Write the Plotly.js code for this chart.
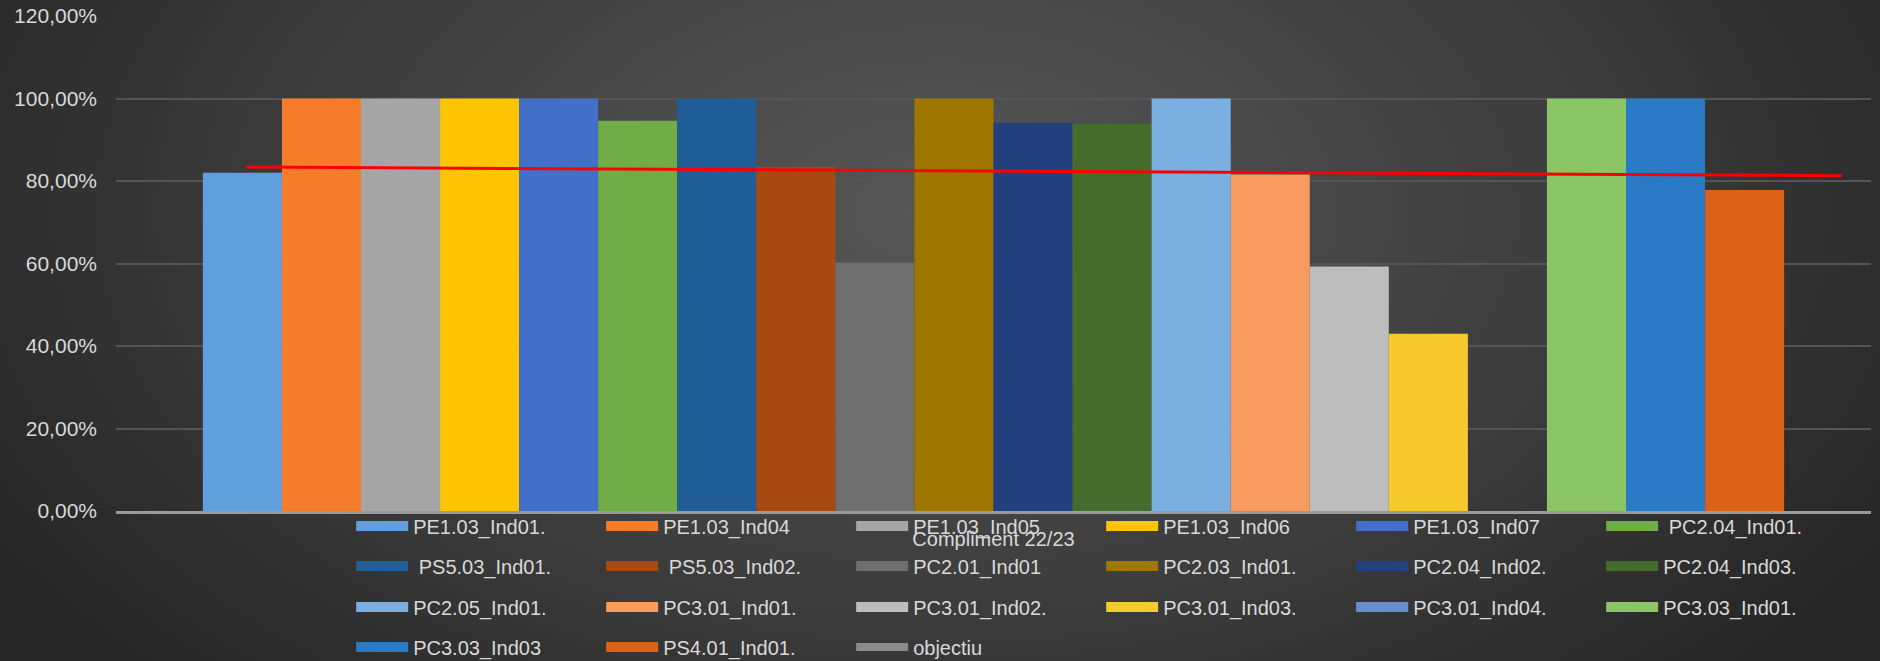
<!DOCTYPE html>
<html><head><meta charset="utf-8">
<script src="https://cdn.plot.ly/plotly-3.0.1.min.js"></script>
<style>
html,body{margin:0;padding:0;width:1880px;height:661px;overflow:hidden;}
body{background: radial-gradient(ellipse 58% 100% at 50% 32%, #575757 0%, #3c3c3c 60%, #262626 100%);}
#chart{width:1880px;height:661px;}
</style></head><body><div id="chart"></div>
<script>
const category = ['Compliment 22/23'];
const seriesNames = ['PE1.03_Ind01.', 'PE1.03_Ind04', 'PE1.03_Ind05', 'PE1.03_Ind06', 'PE1.03_Ind07', '\u00a0PC2.04_Ind01.',
  '\u00a0PS5.03_Ind01.', '\u00a0PS5.03_Ind02.', 'PC2.01_Ind01', 'PC2.03_Ind01.', 'PC2.04_Ind02.', 'PC2.04_Ind03.',
  'PC2.05_Ind01.', 'PC3.01_Ind01.', 'PC3.01_Ind02.', 'PC3.01_Ind03.', 'PC3.01_Ind04.', 'PC3.03_Ind01.',
  'PC3.03_Ind03', 'PS4.01_Ind01.'];
const seriesValues = [0.82, 1, 1, 1, 1, 0.946, 1, 0.834, 0.602, 1, 0.941, 0.939, 1, 0.816, 0.593, 0.43, null, 1, 1, 0.778];
const seriesColors = ['#5fa0dc','#f57c2a','#a5a5a5','#ffc504','#4270c8','#70ad47','#215d96','#a64a12','#6f6f6f','#9e7600',
  '#22417e','#466c2d','#7aafe2','#f79b5e','#bdbdbd','#f6c92c','#698ed0','#8cc566','#2a7ac6','#dc6218'];
const objectiuName = 'objectiu';
const objectiuX = [-0.426, 0.4835];
const objectiuY = [0.834, 0.813];
const yTickFormat = '.2%';

const traces = [];
seriesNames.forEach((n, i) => {
  traces.push({type:'bar', name:n, x:category, y:[seriesValues[i]], marker:{color:seriesColors[i]},
    legendgroup:'g'+i, showlegend:false, hoverinfo:'name+y'});
});
traces.push({type:'scatter', mode:'lines', x:objectiuX, y:objectiuY, xaxis:'x2', yaxis:'y',
  line:{color:'#ff0000', width:3}, showlegend:false, legendgroup:'obj', name:objectiuName});

const legendNames = ['legend','legend2','legend3','legend4'];
seriesNames.forEach((n, i) => {
  traces.push({type:'scatter', mode:'lines', x:[null], y:[null], xaxis:'x2', name:n, legendgroup:'g'+i,
    legend: legendNames[Math.floor(i/6)], line:{color:seriesColors[i], width:14}});
});
traces.push({type:'scatter', mode:'lines', x:[null], y:[null], xaxis:'x2', name:objectiuName, legendgroup:'obj',
  legend:'legend4', line:{color:'#8c8c8c', width:8}});

const plotTop = 16, plotBottom = 511, plotH = plotBottom - plotTop;
const rowCenters = [526, 566, 607, 647];
function leg(i){
  return {orientation:'h', x:0.134, xanchor:'left', y:(plotBottom-rowCenters[i])/plotH, yanchor:'middle',
    bgcolor:'rgba(0,0,0,0)', itemwidth:52, entrywidth:183, entrywidthmode:'pixels',
    font:{size:20, color:'#d9d9d9', family:'Liberation Sans, Arial, sans-serif'}, itemclick:false, itemdoubleclick:false};
}
const layout = {
  width:1880, height:661,
  paper_bgcolor:'rgba(0,0,0,0)', plot_bgcolor:'rgba(0,0,0,0)',
  margin:{l:116, r:9, t:plotTop, b:661-plotBottom, autoexpand:false},
  separators:',.',
  barmode:'group', bargap:0.099, bargroupgap:0,
  font:{family:'Liberation Sans, Arial, sans-serif', color:'#d9d9d9', size:20},
  showlegend:true,
  xaxis:{type:'category', showgrid:false, showline:true, linecolor:'#9a9a9a', linewidth:2.5, ticks:'',
    tickfont:{size:20, color:'#d9d9d9'}, ticklabelstandoff:8, zeroline:false, fixedrange:true},
  xaxis2:{overlaying:'x', range:[-0.5,0.5], visible:false, fixedrange:true},
  yaxis:{range:[0,1.2], dtick:0.2, tickformat:yTickFormat, gridcolor:'#555555', gridwidth:2, zeroline:false,
    showline:false, ticks:'', tickfont:{size:21, color:'#d9d9d9'}, ticklabelstandoff:18, fixedrange:true},
  legend:leg(0), legend2:leg(1), legend3:leg(2), legend4:leg(3)
};
Plotly.newPlot('chart', traces, layout, {displayModeBar:false, staticPlot:false});
</script></body></html>
